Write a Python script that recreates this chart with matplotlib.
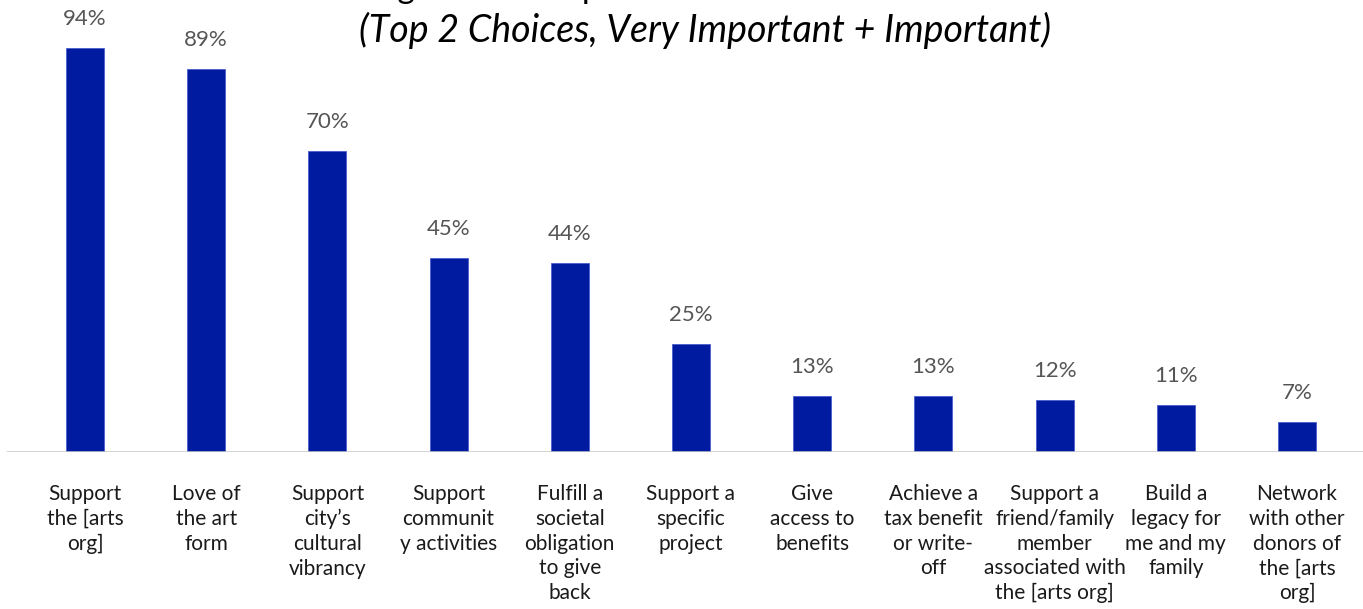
import numpy as np
import matplotlib
matplotlib.use("Agg")
import matplotlib.pyplot as plt

plt.rcParams['font.family'] = ['Lato', 'DejaVu Sans']

categories = [
    "Support\nthe [arts\norg]",
    "Love of\nthe art\nform",
    "Support\ncity\u2019s\ncultural\nvibrancy",
    "Support\ncommunit\ny activities",
    "Fulfill a\nsocietal\nobligation\nto give\nback",
    "Support a\nspecific\nproject",
    "Give\naccess to\nbenefits",
    "Achieve a\ntax benefit\nor write-\noff",
    "Support a\nfriend/family\nmember\nassociated with\nthe [arts org]",
    "Build a\nlegacy for\nme and my\nfamily",
    "Network\nwith other\ndonors of\nthe [arts\norg]",
]
values = [94, 89, 70, 45, 44, 25, 13, 13, 12, 11, 7]

title_main = "Reasons for Giving \u2013 Rated Importance"
title_sub = "(Top 2 Choices, Very Important + Important)"

W, H = 1363, 609
fig = plt.figure(figsize=(W / 100, H / 100), dpi=100)
ax = fig.add_axes([7 / W, 157 / H, 1 - 7 / W, 452 / H])

x = np.arange(len(categories))
ax.bar(x, values, width=0.314, color='#001ba0',
       edgecolor='#4a5ecc', linewidth=0.6, zorder=2)
ax.axhline(0, color='#c8c8c8', linewidth=1.3, alpha=0.85, zorder=3)

for xi, v in zip(x, values):
    ax.annotate(f"{v}%", (xi, v), xytext=(0, 21), textcoords='offset points',
                ha='center', va='center', fontsize=16, color='#555555')

ax.set_xlim(-0.644, 10.545)
ax.set_ylim(0, 105.1)
ax.set_xticks(x)
ax.set_xticklabels(categories, fontsize=15, color='#1a1a1a', linespacing=1.3)
ax.tick_params(axis='x', length=0, pad=23)
ax.set_yticks([])
for s in ax.spines.values():
    s.set_visible(False)

# first title line sits mostly above the canvas, only descenders show
fig.text(0.5 - 255 / W, 1 + 2 / H, title_main, ha='center', va='baseline',
         fontsize=24, color='black')
fig.text(705 / W, 1 - 30 / H, title_sub, ha='center', va='center',
         fontsize=27, style='italic', color='black')

fig.savefig('out.png', dpi=100)
